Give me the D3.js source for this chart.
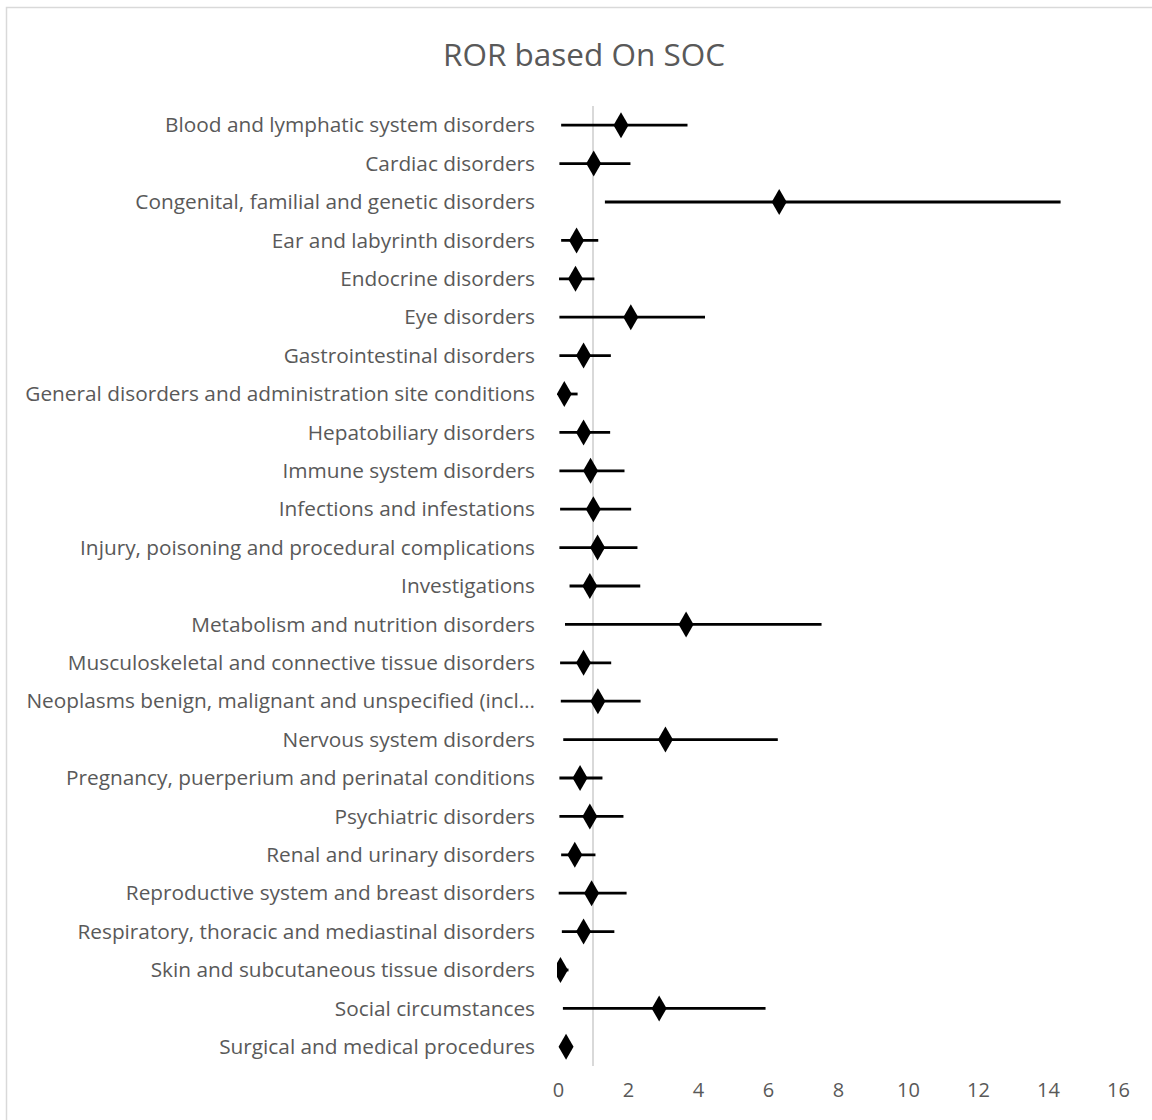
<!DOCTYPE html>
<html lang="en">
<head>
  <meta charset="UTF-8" />
  <title>ROR based On SOC</title>
  <script src="https://d3js.org/d3.v7.min.js"></script>
  <style>
    html, body {
      margin: 0;
      padding: 0;
      background: #fff;
    }
    svg {
      display: block;
      font-family: "Open Sans", sans-serif;
    }
  </style>
</head>
<body>
<svg width="1152" height="1120"></svg>
<script>
  // system organ classes, top to bottom
  const categories = [
    "Blood and lymphatic system disorders",
    "Cardiac disorders",
    "Congenital, familial and genetic disorders",
    "Ear and labyrinth disorders",
    "Endocrine disorders",
    "Eye disorders",
    "Gastrointestinal disorders",
    "General disorders and administration site conditions",
    "Hepatobiliary disorders",
    "Immune system disorders",
    "Infections and infestations",
    "Injury, poisoning and procedural complications",
    "Investigations",
    "Metabolism and nutrition disorders",
    "Musculoskeletal and connective tissue disorders",
    "Neoplasms benign, malignant and unspecified (incl\u2026",
    "Nervous system disorders",
    "Pregnancy, puerperium and perinatal conditions",
    "Psychiatric disorders",
    "Renal and urinary disorders",
    "Reproductive system and breast disorders",
    "Respiratory, thoracic and mediastinal disorders",
    "Skin and subcutaneous tissue disorders",
    "Social circumstances",
    "Surgical and medical procedures"
  ];
  const ror   = [1.80, 1.02, 6.32, 0.53, 0.50, 2.08, 0.73, 0.18, 0.73, 0.93, 1.01, 1.13, 0.91, 3.66, 0.73, 1.14, 3.07, 0.63, 0.91, 0.48, 0.96, 0.73, 0.07, 2.89, 0.23];
  const lower = [0.09, 0.04, 1.34, 0.09, 0.03, 0.04, 0.04, 0.05, 0.04, 0.04, 0.06, 0.04, 0.33, 0.20, 0.06, 0.08, 0.15, 0.04, 0.04, 0.09, 0.02, 0.11, 0.02, 0.14, 0.05];
  const upper = [3.70, 2.07, 14.36, 1.15, 1.04, 4.20, 1.51, 0.56, 1.49, 1.90, 2.09, 2.27, 2.35, 7.53, 1.52, 2.36, 6.28, 1.27, 1.87, 1.07, 1.96, 1.61, 0.30, 5.93, 0.40];
  const xTicks = [0, 2, 4, 6, 8, 10, 12, 14, 16];

  const rows = categories.map((c, i) => ({ name: c, ror: ror[i], lo: lower[i], hi: upper[i] }));

  const svg = d3.select("svg");
  const textColor = "#595959";

  // chart frame (only top/left edges visible in the crop)
  svg.append("rect")
    .attr("x", 6.5).attr("y", 7.5)
    .attr("width", 1200).attr("height", 1200)
    .attr("fill", "none").attr("stroke", "#d9d9d9").attr("stroke-width", 1.5);

  svg.append("text")
    .attr("x", 584).attr("y", 66)
    .attr("text-anchor", "middle")
    .attr("font-size", 31.5)
    .attr("fill", textColor)
    .text("ROR based On SOC");

  const x = d3.scaleLinear().domain([0, 16]).range([558, 1118]);
  const y = d3.scaleBand().domain(categories).range([106, 1066]);

  // clip to plot area so marks below 0 are cut like the original
  svg.append("clipPath").attr("id", "plot")
    .append("rect")
    .attr("x", x(0) - 1).attr("y", 100)
    .attr("width", x(16) - x(0) + 40).attr("height", 980);

  // reference line at ROR = 1
  svg.append("line")
    .attr("x1", x(1)).attr("x2", x(1))
    .attr("y1", y.range()[0]).attr("y2", y.range()[1])
    .attr("stroke", "#d9d9d9").attr("stroke-width", 2);

  // category labels
  svg.append("g")
    .selectAll("text")
    .data(rows).join("text")
    .attr("x", 535)
    .attr("y", d => y(d.name) + y.bandwidth() / 2)
    .attr("dy", "0.35em")
    .attr("text-anchor", "end")
    .attr("font-size", 20.8)
    .attr("fill", textColor)
    .text(d => d.name);

  // x axis tick labels (no axis line)
  const xAxis = d3.axisBottom(x).tickValues(xTicks).tickSize(0).tickPadding(0);
  const gx = svg.append("g")
    .attr("transform", `translate(0, 1083)`)
    .call(xAxis);
  gx.select(".domain").remove();
  gx.selectAll("text")
    .attr("font-family", "\"Open Sans\", sans-serif")
    .attr("font-size", 20)
    .attr("fill", textColor);

  const marks = svg.append("g").attr("clip-path", "url(#plot)");

  // confidence intervals
  marks.selectAll("line.ci")
    .data(rows).join("line")
    .attr("class", "ci")
    .attr("x1", d => x(d.lo)).attr("x2", d => x(d.hi))
    .attr("y1", d => y(d.name) + y.bandwidth() / 2)
    .attr("y2", d => y(d.name) + y.bandwidth() / 2)
    .attr("stroke", "#000").attr("stroke-width", 2.8);

  // diamonds
  const hw = 7.5, hh = 13;
  marks.selectAll("path.pt")
    .data(rows).join("path")
    .attr("class", "pt")
    .attr("transform", d => `translate(${x(d.ror)}, ${y(d.name) + y.bandwidth() / 2})`)
    .attr("d", `M0,${-hh}L${hw},0L0,${hh}L${-hw},0Z`)
    .attr("fill", "#000");
</script>
</body>
</html>
